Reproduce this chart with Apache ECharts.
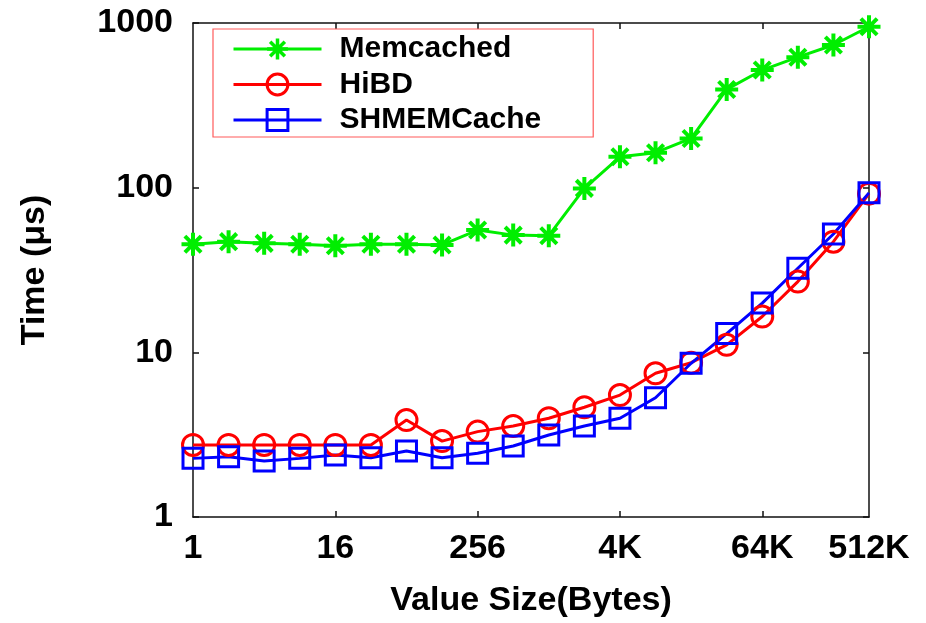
<!DOCTYPE html>
<html>
<head>
<meta charset="utf-8">
<script src="https://cdn.jsdelivr.net/npm/echarts@6/dist/echarts.min.js"></script>
<style>
html,body{margin:0;padding:0;background:#fff;}
#chart{width:926px;height:623px;}
</style>
</head>
<body>
<div id="chart"></div>
<script>
// Value sizes 1B .. 512KB (powers of two)
var categories = ['1','2','4','8','16','32','64','128','256','512','1K','2K','4K','8K','16K','32K','64K','128K','256K','512K'];
var tickLabels = ['1','16','256','4K','64K','512K'];
var yTickLabels = ['1','10','100','1000'];
var memcached = [45.3, 47, 45.9, 45.3, 44.4, 45.3, 45.3, 44.9, 55.3, 51.5, 51.1, 99, 154, 163, 199, 395, 518, 620, 735, 949];
var hibd = [2.74, 2.74, 2.74, 2.74, 2.74, 2.74, 3.88, 2.89, 3.30, 3.57, 3.98, 4.64, 5.5, 7.46, 8.65, 11.1, 16.5, 26.9, 47, 92];
var shmemcache = [2.27, 2.32, 2.19, 2.27, 2.38, 2.29, 2.52, 2.29, 2.44, 2.70, 3.15, 3.57, 3.98, 5.30, 8.58, 13.0, 19.9, 32.4, 52.3, 93];

var FONT = '"Liberation Sans", Arial, Helvetica, sans-serif';
var starPath = 'path://M0,-10L0,10M-10,0L10,0M-7.07,-7.07L7.07,7.07M-7.07,7.07L7.07,-7.07';

function showCat(idx) { return tickLabels.indexOf(categories[idx]) >= 0; }

var chart = echarts.init(document.getElementById('chart'), null, {renderer: 'canvas'});
var axisLine = {show: true, lineStyle: {color: '#111', width: 1.5}};
var option = {
  animation: false,
  backgroundColor: '#fff',
  grid: {left: 193, right: 57, top: 23, bottom: 106, containLabel: false},
  legend: {
    left: 213, top: 29, orient: 'vertical',
    data: [
      {name: 'Memcached', itemStyle: {color: '#00ee00', borderColor: '#00ee00', borderWidth: 3.5}},
      {name: 'HiBD', itemStyle: {color: 'rgba(0,0,0,0)', borderColor: '#ff0000', borderWidth: 3}},
      {name: 'SHMEMCache', itemStyle: {color: 'rgba(0,0,0,0)', borderColor: '#0000ff', borderWidth: 3}}
    ],
    itemWidth: 88, itemHeight: 26, itemGap: 5.5,
    padding: [5, 52, 2, 19],
    borderColor: '#ff5a5a', borderWidth: 1.2,
    lineStyle: {width: 3},
    textStyle: {fontFamily: FONT, fontWeight: 'bold', fontSize: 30, color: '#000', padding: [0, 0, 0, 13]}
  },
  xAxis: [{
    type: 'category', data: categories, boundaryGap: false, position: 'bottom',
    axisLine: axisLine,
    axisTick: {show: true, inside: true, length: 6, interval: function (i) { return showCat(i) && i !== 0 && i !== categories.length - 1; }, lineStyle: {color: '#111', width: 1.5}},
    axisLabel: {interval: function (i) { return showCat(i); }, fontFamily: FONT, fontWeight: 'bold', fontSize: 34, color: '#000', margin: 15},
    splitLine: {show: false},
    name: 'Value Size(Bytes)', nameLocation: 'middle', nameGap: 67,
    nameTextStyle: {fontFamily: FONT, fontWeight: 'bold', fontSize: 34, color: '#000'}
  }, {
    type: 'category', data: categories, boundaryGap: false, position: 'top',
    axisLine: axisLine,
    axisTick: {show: true, inside: true, length: 6, interval: function (i) { return showCat(i) && i !== 0 && i !== categories.length - 1; }, lineStyle: {color: '#111', width: 1.5}},
    axisLabel: {show: false}, splitLine: {show: false}
  }],
  yAxis: [{
    type: 'log', logBase: 10, min: 1, max: 1000, position: 'left',
    axisLine: axisLine,
    axisTick: {show: true, inside: true, length: 6, lineStyle: {color: '#111', width: 1.5}},
    minorTick: {show: false},
    axisLabel: {fontFamily: FONT, fontWeight: 'bold', fontSize: 34, color: '#000', margin: 20,
      formatter: function (v) { var s = String(Math.round(v)); return yTickLabels.indexOf(s) >= 0 ? s : ''; }},
    splitLine: {show: false},
    name: 'Time (μs)', nameLocation: 'middle', nameGap: 141, nameRotate: 90,
    nameTextStyle: {fontFamily: FONT, fontWeight: 'bold', fontSize: 34, color: '#000'}
  }, {
    type: 'log', logBase: 10, min: 1, max: 1000, position: 'right',
    axisLine: axisLine,
    axisTick: {show: true, inside: true, length: 6, lineStyle: {color: '#111', width: 1.5}},
    axisLabel: {show: false}, splitLine: {show: false}
  }],
  series: [{
    name: 'Memcached', type: 'line', data: memcached, showAllSymbol: true,
    symbol: starPath, symbolSize: 23,
    lineStyle: {color: '#00ee00', width: 3},
    itemStyle: {color: '#00ee00', borderColor: '#00ee00', borderWidth: 4}
  }, {
    name: 'HiBD', type: 'line', data: hibd, showAllSymbol: true,
    symbol: 'circle', symbolSize: 21,
    lineStyle: {color: '#ff0000', width: 3},
    itemStyle: {color: 'rgba(0,0,0,0)', borderColor: '#ff0000', borderWidth: 3}
  }, {
    name: 'SHMEMCache', type: 'line', data: shmemcache, showAllSymbol: true,
    symbol: 'rect', symbolSize: 20,
    lineStyle: {color: '#0000ff', width: 3},
    itemStyle: {color: 'rgba(0,0,0,0)', borderColor: '#0000ff', borderWidth: 3}
  }]
};
chart.setOption(option);
</script>
</body>
</html>
